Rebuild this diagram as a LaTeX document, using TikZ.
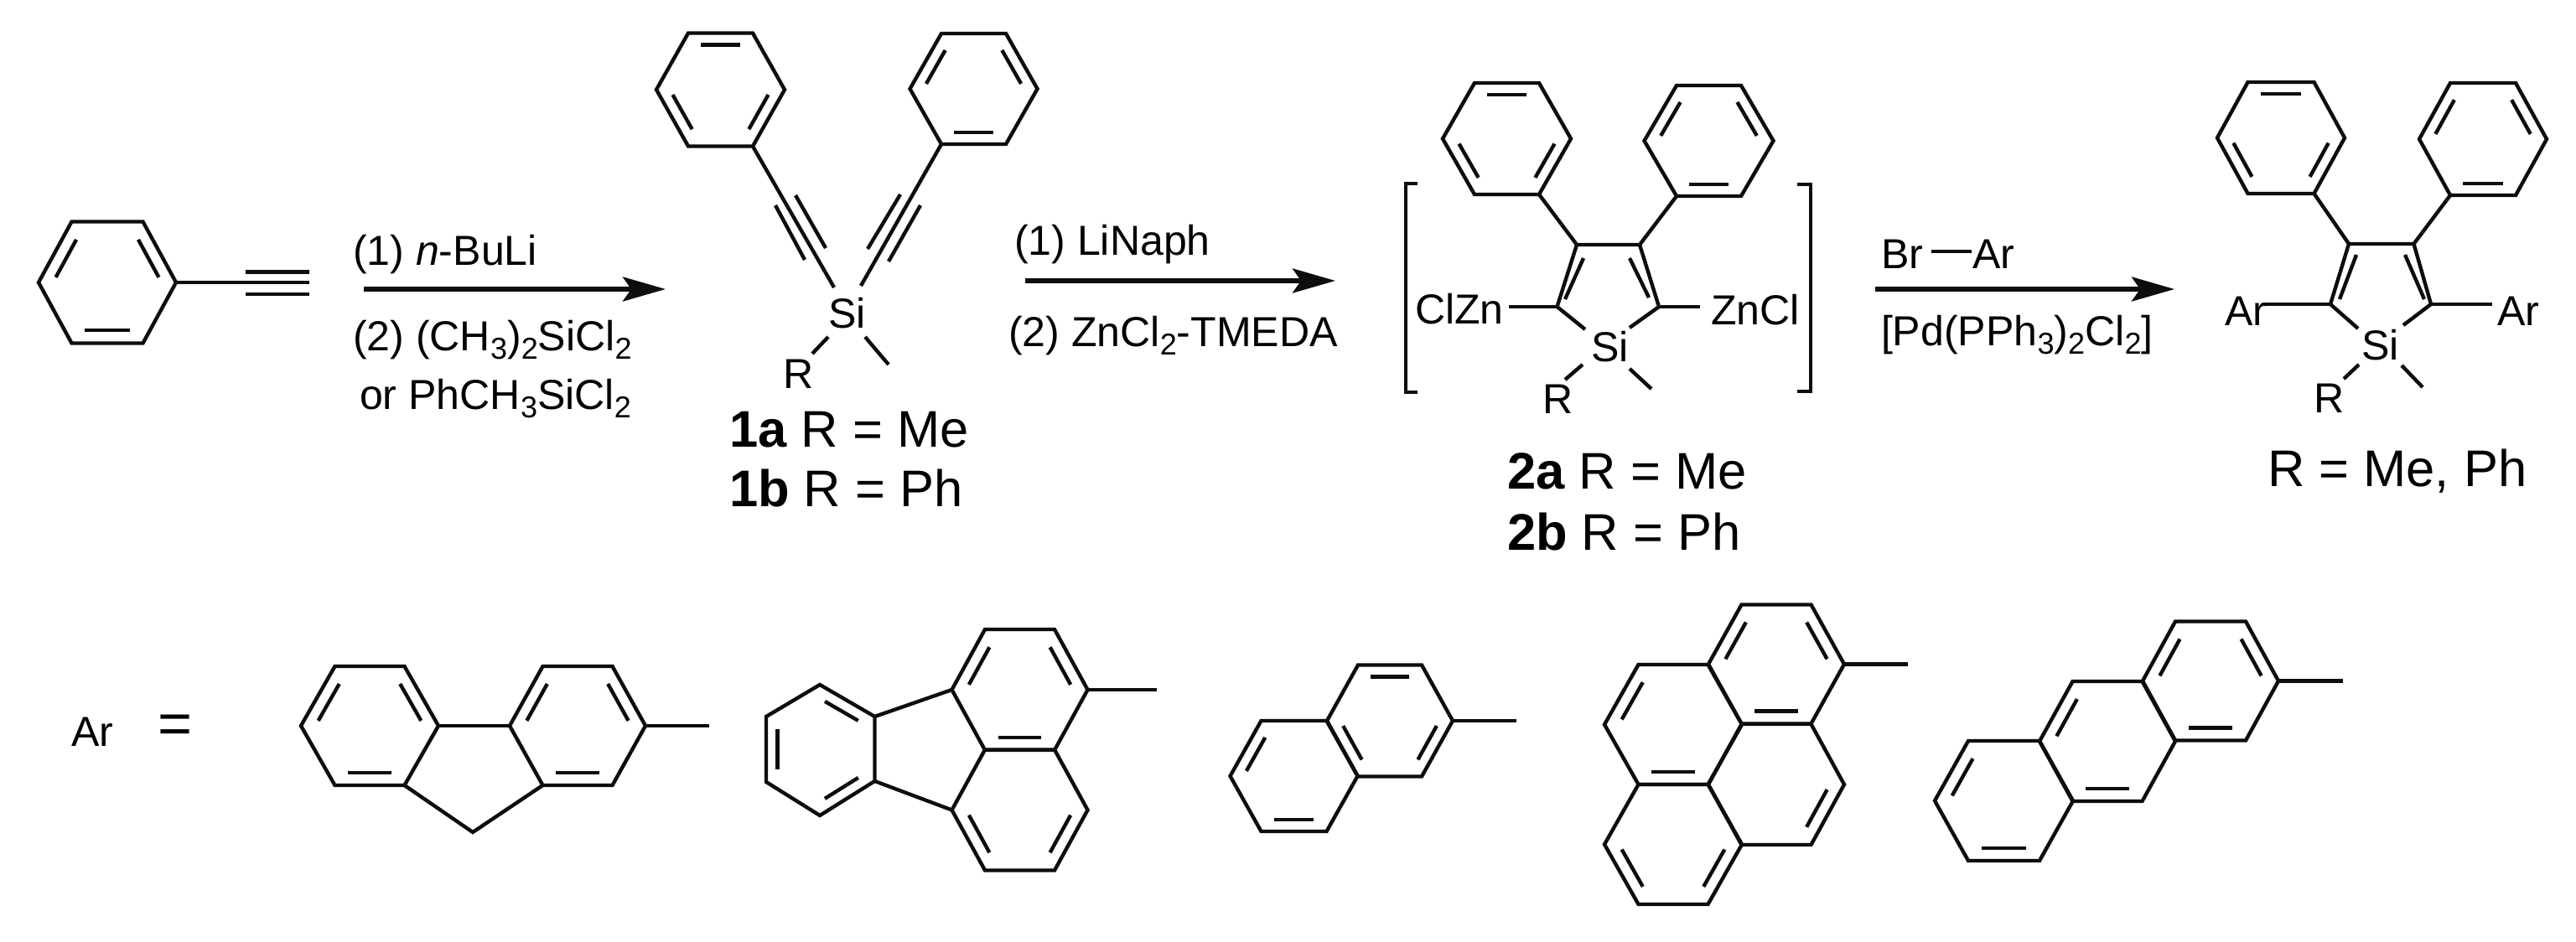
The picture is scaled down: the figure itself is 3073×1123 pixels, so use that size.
\documentclass[tikz,border=0pt]{standalone}
\usepackage{fontspec}
\setmainfont{Liberation Sans}
\usetikzlibrary{calc,arrows.meta}
\newcommand\sbs[1]{\raisebox{-.2em}{\scalebox{.72}{#1}}}
\newcommand\tA{\fontsize{28.5}{30}\selectfont}
\newcommand\tB{\fontsize{35}{37}\selectfont}
\tikzset{
  bond/.style={line width=.088cm,draw=black!95,line join=miter,line cap=butt},
  inner/.style={bond,shorten <=.14cm,shorten >=.14cm},
  lbl/.style={inner sep=0pt,outer sep=0pt,anchor=base west,text=black,font=\tA},
  big/.style={lbl,font=\tB},
  rxn/.style={line width=.11cm,draw=black!95,-{Stealth[length=1.02cm,width=.58cm,inset=.2cm]}}
}
% name cx cy halfwidth halfheight halftop doubles
\newcommand\hexa[7]{%
  \coordinate (#1c) at (#2,#3);
  \coordinate (#1p1) at ({#2-#6},{#3-#5});
  \coordinate (#1p2) at ({#2+#6},{#3-#5});
  \coordinate (#1p3) at ({#2+#4},#3);
  \coordinate (#1p4) at ({#2+#6},{#3+#5});
  \coordinate (#1p5) at ({#2-#6},{#3+#5});
  \coordinate (#1p6) at ({#2-#4},#3);
  \draw[bond] (#1p1)--(#1p2)--(#1p3)--(#1p4)--(#1p5)--(#1p6)--cycle;
  \foreach \a/\b in {#7}{
    \draw[inner] ($(#1p\a)!.21!(#1c)$) -- ($(#1p\b)!.21!(#1c)$);
  }%
}
\newcommand\pt[3]{\coordinate (#1) at (#2,#3);}
\begin{document}
\begin{tikzpicture}[x=.02cm,y=-.02cm]
\useasboundingbox (0,0) rectangle (3073,1123);
\fill[white] (0,0) rectangle (3073,1123);

% --- phenylacetylene
\hexa{A}{128}{337}{82}{72.5}{42.5}{6/1,2/3,4/5}
\pt{Ae}{369}{337}\pt{Aa}{293}{324.5}\pt{Ab}{369}{324.5}\pt{Ac}{293}{351}\pt{Ad}{369}{351}
\draw[bond] (Ap3)--(Ae);
\draw[bond] (Aa)--(Ab);
\draw[bond] (Ac)--(Ad);

% --- arrow 1
\pt{r1s}{434}{345}\pt{r1e}{794}{345}
\draw[rxn] (r1s)--(r1e);
\node[lbl] (t1) at (421,316) {(1) \textit{n}-BuLi};
\node[lbl] (t2) at (421,418) {(2) (CH\sbs{3})\sbs{2}SiCl\sbs{2}};
\node[lbl] (t3) at (429,488) {or PhCH\sbs{3}SiCl\sbs{2}};

% --- 1a/1b
\hexa{B}{859.5}{107}{76.5}{67.5}{38.5}{1/2,3/4,5/6}
\hexa{C}{1161.5}{106}{76}{66}{38.5}{6/1,2/3,4/5}
\node[lbl] (si1) at (988,391) {Si};
\node[lbl] (r1) at (934,463) {R};
\pt{b1}{995}{343}\pt{b2}{1027}{341}
\draw[bond] (Bp4)--(b1);
\draw[bond] (Cp5)--(b2);
\pt{b1a}{925}{245}\pt{b1b}{960}{310}\pt{b1c}{949}{233}\pt{b1d}{985}{296}
\draw[bond] (b1a)--(b1b);
\draw[bond] (b1c)--(b1d);
\pt{b2a}{1074}{232}\pt{b2b}{1035}{297}\pt{b2c}{1098}{245}\pt{b2d}{1060}{312}
\draw[bond] (b2a)--(b2b);
\draw[bond] (b2c)--(b2d);
\pt{b3a}{969}{422}\pt{b3b}{988}{402}\pt{b4a}{1032}{402}\pt{b4b}{1060}{435}
\draw[bond] (b3a)--(b3b);
\draw[bond] (b4a)--(b4b);
\node[big] (l1a) at (870,533) {\textbf{1a} R = Me};
\node[big] (l1b) at (870,604) {\textbf{1b} R = Ph};

% --- arrow 2
\pt{r2s}{1223}{335}\pt{r2e}{1593}{335}
\draw[rxn] (r2s)--(r2e);
\node[lbl] (t4) at (1210,304) {(1) LiNaph};
\node[lbl] (t5) at (1203,413) {(2) ZnCl\sbs{2}-TMEDA};

% --- 2a/2b
\hexa{D}{1797.5}{165.5}{76.5}{66.5}{38.5}{1/2,3/4,5/6}
\hexa{E}{2038.5}{168}{77}{66}{38.5}{6/1,2/3,4/5}
\pt{Dc3}{1881}{292}\pt{Dc4}{1956}{292}\pt{Dc5}{1979}{366}\pt{Dc2}{1857.5}{366}
\draw[bond] (Dp4)--(Dc3);
\draw[bond] (Ep5)--(Dc4);
\pt{Dsa}{1891}{393}\pt{Dsb}{1944}{391}
\draw[bond] (Dsa)--(Dc2)--(Dc3)--(Dc4)--(Dc5)--(Dsb);
\pt{Di1}{1867}{357}\pt{Di2}{1889}{308}\pt{Di3}{1944}{308}\pt{Di4}{1967}{355}
\draw[bond] (Di1)--(Di2);
\draw[bond] (Di3)--(Di4);
\node[lbl] (si2) at (1898,431) {Si};
\node[lbl] (r2) at (1840,493) {R};
\pt{d1}{1867}{453}\pt{d2}{1888}{435}\pt{d3}{1944}{440}\pt{d4}{1970}{464}
\draw[bond] (d1)--(d2);
\draw[bond] (d3)--(d4);
\node[lbl] (clzn) at (1688,386) {ClZn};
\node[lbl] (zncl) at (2041,387) {ZnCl};
\pt{dz1}{1800}{366}\pt{dz2}{2028}{366}
\draw[bond] (dz1)--(Dc2);
\draw[bond] (Dc5)--(dz2);
\pt{bl1}{1691}{219}\pt{bl2}{1677}{219}\pt{bl3}{1677}{468}\pt{bl4}{1691}{468}
\draw[bond] (bl1)--(bl2)--(bl3)--(bl4);
\pt{br1}{2143.5}{220}\pt{br2}{2160}{220}\pt{br3}{2160}{467}\pt{br4}{2143.5}{467}
\draw[bond] (br1)--(br2)--(br3)--(br4);
\node[big] (l2a) at (1798,583) {\textbf{2a} R = Me};
\node[big] (l2b) at (1798,656) {\textbf{2b} R = Ph};

% --- arrow 3
\pt{r3s}{2237}{345}\pt{r3e}{2594}{345}
\draw[rxn] (r3s)--(r3e);
\node[lbl] (brn) at (2244,320) {Br};
\node[lbl] (arn) at (2353,320) {Ar};
\pt{ba1}{2304}{300}\pt{ba2}{2351.5}{300}
\draw[bond] (ba1)--(ba2);
\node[lbl] (t6) at (2244,412) {[Pd(PPh\sbs{3})\sbs{2}Cl\sbs{2}]};

% --- product
\hexa{F}{2721}{164.5}{76}{66.5}{39.5}{1/2,3/4,5/6}
\hexa{G}{2962}{166}{76}{67}{39}{6/1,2/3,4/5}
\pt{Fc3}{2802}{291}\pt{Fc4}{2879.5}{291}\pt{Fc5}{2900}{363}\pt{Fc2}{2780}{363}
\draw[bond] (Fp4)--(Fc3);
\draw[bond] (Gp5)--(Fc4);
\pt{Fsa}{2813}{392}\pt{Fsb}{2867}{388}
\draw[bond] (Fsa)--(Fc2)--(Fc3)--(Fc4)--(Fc5)--(Fsb);
\pt{Fi1}{2791}{357}\pt{Fi2}{2811}{304}\pt{Fi3}{2869}{304}\pt{Fi4}{2892}{357}
\draw[bond] (Fi1)--(Fi2);
\draw[bond] (Fi3)--(Fi4);
\node[lbl] (si3) at (2817,429) {Si};
\node[lbl] (r3) at (2760,492) {R};
\pt{f1}{2796}{452}\pt{f2}{2814}{435}\pt{f3}{2865}{436}\pt{f4}{2890}{462}
\draw[bond] (f1)--(f2);
\draw[bond] (f3)--(f4);
\node[lbl] (arl) at (2654,388) {Ar};
\node[lbl] (arr) at (2979,388) {Ar};
\pt{fa1}{2699}{363}\pt{fa2}{2973}{363}
\draw[bond] (fa1)--(Fc2);
\draw[bond] (Fc5)--(fa2);
\node[big] (l3) at (2705,580) {R = Me, Ph};

% --- Ar =
\node[lbl] (arb) at (85,890) {Ar};
\node[lbl,anchor=center,font=\fontsize{40}{42}\selectfont] (eqb) at (209,870) {=};

% fluorene
\hexa{H}{441}{866}{82}{71}{41.5}{6/1,2/3,4/5}
\hexa{I}{689}{866}{81}{71}{41.5}{6/1,2/3,4/5}
\pt{Hch}{564}{993}\pt{Hme}{846}{866}
\draw[bond] (Hp3)--(Ip6);
\draw[bond] (Hp4)--(Hch)--(Ip5);
\draw[bond] (Ip3)--(Hme);

% fluoranthene
\hexa{J}{1216.5}{823}{81}{72}{41.5}{6/1,2/3,4/5}
\hexa{K}{1216.5}{966.5}{81}{72}{41.5}{3/4,5/6}
\pt{Jme}{1380}{823}
\draw[bond] (Jp3)--(Jme);
\pt{La}{978}{817}\pt{Lb}{1043.5}{855}\pt{Lc}{1043.5}{932}\pt{Ld}{978}{973}\pt{Le}{914}{933}\pt{Lf}{914}{855}\pt{Lm}{978}{895}
\draw[bond] (La)--(Lb)--(Lc)--(Ld)--(Le)--(Lf)--cycle;
\draw[inner] ($(La)!.21!(Lm)$)--($(Lb)!.21!(Lm)$);
\draw[inner] ($(Lc)!.21!(Lm)$)--($(Ld)!.21!(Lm)$);
\draw[inner] ($(Le)!.21!(Lm)$)--($(Lf)!.21!(Lm)$);
\draw[bond] (Lb)--(Jp6);
\draw[bond] (Lc)--(Kp6);

% naphthalene
\hexa{M}{1658}{860}{75}{66.5}{38}{1/2,3/4,5/6}
\hexa{N}{1543.5}{926}{76}{66}{39}{6/1,4/5}
\pt{Mme}{1809}{860}
\draw[bond] (Mp3)--(Mme);

% pyrene
\hexa{O}{2119}{792.5}{81}{71}{41.5}{6/1,2/3,4/5}
\hexa{P}{1996}{864.5}{82}{71.5}{41.5}{6/1,4/5}
\hexa{Q}{2119}{936}{81}{72}{41.5}{3/4}
\hexa{S}{1996}{1007.5}{82}{71.5}{41.5}{3/4,5/6}
\pt{Ome}{2276}{792.5}
\draw[bond] (Op3)--(Ome);

% anthracene
\hexa{T}{2637}{812.5}{81}{71}{42}{6/1,2/3,4/5}
\hexa{U}{2514}{884.5}{81}{71.5}{41.5}{6/1,4/5}
\hexa{V}{2390.5}{955.5}{82.5}{71.5}{42.5}{6/1,4/5}
\pt{Tme}{2795}{812.5}
\draw[bond] (Tp3)--(Tme);
\end{tikzpicture}
\end{document}
